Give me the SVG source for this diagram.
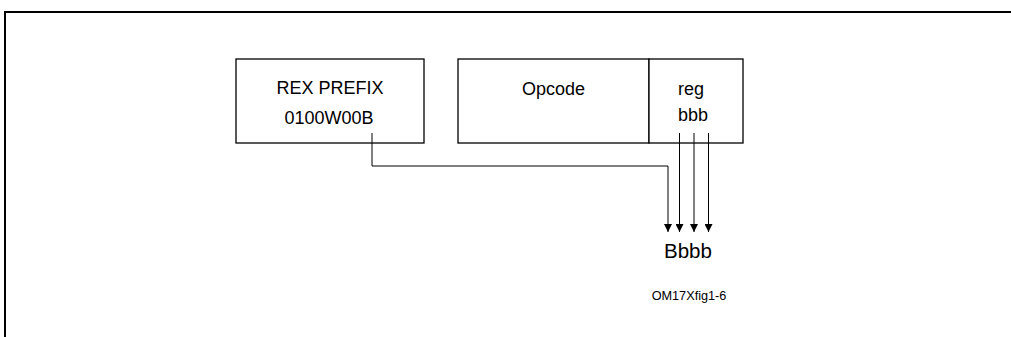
<svg xmlns="http://www.w3.org/2000/svg" width="1011" height="337" viewBox="0 0 1011 337">
<style>
.box{fill:#fff;stroke:#000;stroke-width:1.3}
.t{font-family:"Liberation Sans",Arial,sans-serif;font-size:18px;fill:#000;text-anchor:middle}
.c{fill:none;stroke:#000;stroke-width:1;marker-end:url(#ah)}
</style>
<defs>
<marker id="ah" markerUnits="userSpaceOnUse" markerWidth="8" markerHeight="8" viewBox="0 0 8 8" refX="4" refY="8" orient="0">
<path d="M0,0 L8,0 L4,8 Z" fill="#000"/>
</marker>
</defs>
<rect width="1011" height="337" fill="#fff"/>
<path d="M5,337 V12 H1011" fill="none" stroke="#000" stroke-width="2"/>
<g id="rex">
<rect class="box" x="236" y="59" width="188" height="84"/>
<text class="t" x="330" y="94">REX PREFIX</text>
<text class="t" x="329" y="124">0100W00B</text>
</g>
<g id="opcode">
<rect class="box" x="458" y="59" width="191" height="84"/>
<text class="t" x="553.5" y="95">Opcode</text>
</g>
<g id="reg">
<rect class="box" x="649" y="59" width="94" height="84"/>
<text class="t" x="691" y="95">reg</text>
<text class="t" x="693" y="121">bbb</text>
</g>
<g id="connectors">
<path class="c" d="M372,133 V166 H668 V232"/>
<path class="c" d="M679.5,133 V232"/>
<path class="c" d="M694,133 V232"/>
<path class="c" d="M708.5,133 V232"/>
</g>
<g id="result">
<text class="t" x="688" y="258" style="font-size:20.5px">Bbbb</text>
</g>
<text class="t" x="689" y="300" style="font-size:12.7px">OM17Xfig1-6</text>
</svg>
